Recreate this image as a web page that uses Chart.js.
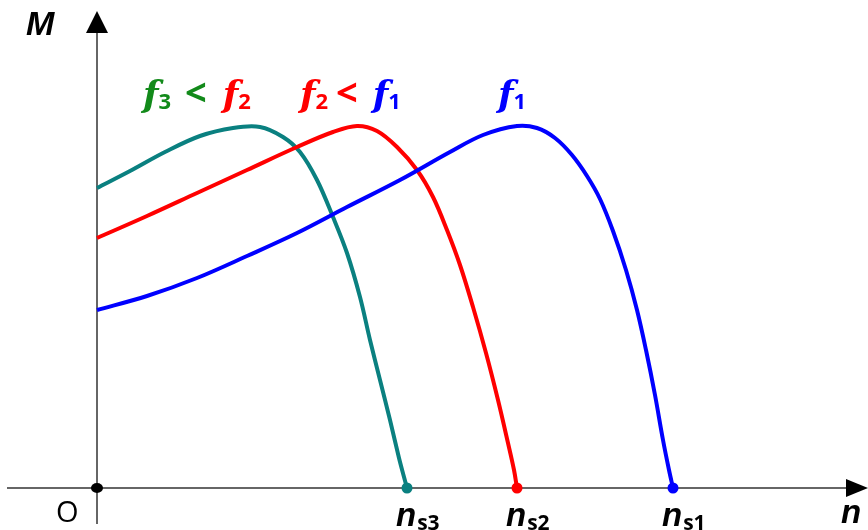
<!DOCTYPE html>
<html>
<head>
<meta charset="utf-8">
<script src="https://cdn.jsdelivr.net/npm/chart.js@4/dist/chart.umd.min.js"></script>
<style>
  html, body { margin: 0; padding: 0; background: #fff; }
  #wrap { width: 868px; height: 530px; position: relative; }
</style>
</head>
<body>
<div id="wrap"><canvas id="chart"></canvas></div>
<script>
// Speed n (arbitrary units) and torque M
const nF1 = [0, 50, 100, 150, 200, 250, 303, 353, 386, 420, 440, 458, 475, 490, 503, 516, 529, 540, 549, 558, 566, 572, 576];
const mF1 = [178, 192, 210, 232, 255, 281, 308, 336, 353, 362, 360, 350, 333, 312, 289, 257, 218, 178, 138, 93, 48, 18, 0];

const nF2 = [0, 50, 100, 150, 200, 236, 260, 280, 300, 320, 336, 350, 363, 376, 389, 401, 411, 417, 420];
const mF2 = [250, 272, 295, 318, 341, 356, 362, 357, 341, 318, 291, 258, 223, 181, 135, 88, 45, 18, 0];

const nF3 = [0, 33, 68, 103, 136, 163, 186, 203, 220, 236, 250, 263, 273, 283, 293, 302, 307, 310];
const mF3 = [300, 317, 336, 352, 360, 361, 351, 336, 308, 271, 235, 191, 148, 108, 68, 30, 11, 0];

// synchronous speeds (end points on the n axis)
const nsLabels = ['s1', 's2', 's3'];
const nsValues = [576, 420, 310];

const BLUE = '#0000ff';
const RED = '#ff0000';
const TEAL = '#0a8080';
const GREEN = '#128a1a';

function toPoints(xs, ys) {
    return xs.map((x, i) => ({ x: x, y: ys[i] }));
}

function endRadius(len, r) {
    // only the last point (on the n axis) gets a dot
    return Array.from({ length: len }, (_, i) => (i === len - 1 ? r : 0));
}

// draws the axes, arrows and the text labels
const axesPlugin = {
    id: 'axesPlugin',
    beforeDatasetsDraw(chart) {
        const ctx = chart.ctx;
        const xs = chart.scales.x;
        const ys = chart.scales.y;
        const x0 = xs.getPixelForValue(0);
        const y0 = ys.getPixelForValue(0);

        ctx.save();
        ctx.strokeStyle = '#666';
        ctx.lineWidth = 2;
        // n axis
        ctx.beginPath();
        ctx.moveTo(7, y0);
        ctx.lineTo(850, y0);
        ctx.stroke();
        // M axis
        ctx.beginPath();
        ctx.moveTo(x0, 524);
        ctx.lineTo(x0, 30);
        ctx.stroke();

        ctx.fillStyle = '#000';
        // arrow heads
        ctx.beginPath();
        ctx.moveTo(x0, 11);
        ctx.lineTo(x0 - 11, 33);
        ctx.lineTo(x0 + 11, 33);
        ctx.closePath();
        ctx.fill();

        ctx.beginPath();
        ctx.moveTo(868, y0);
        ctx.lineTo(846, y0 - 9);
        ctx.lineTo(846, y0 + 9);
        ctx.closePath();
        ctx.fill();

        // origin dot
        ctx.beginPath();
        ctx.ellipse(x0, y0, 6, 5, 0, 0, Math.PI * 2);
        ctx.fill();
        ctx.restore();
    },
    afterDraw(chart) {
        const ctx = chart.ctx;
        const xs = chart.scales.x;
        const fItal = 'italic bold 36px "DejaVu Serif"';
        const sub = 'bold 22px "Open Sans"';
        const lt = 'bold 38px "Open Sans"';
        const nItal = 'italic bold 33px "Liberation Sans"';

        ctx.save();
        ctx.textBaseline = 'alphabetic';
        ctx.textAlign = 'left';

        // writes a list of [text, font, color, dy, gap] runs one after another
        function runs(x, y, parts) {
            let cx = x;
            parts.forEach(p => {
                ctx.font = p[1];
                ctx.fillStyle = p[2];
                ctx.fillText(p[0], cx, y + (p[3] || 0));
                cx += ctx.measureText(p[0]).width + (p[4] || 0);
            });
        }

        // axis names
        runs(26, 35, [['M', 'italic bold 34px "Liberation Sans"', '#000']]);
        runs(841, 523, [['n', nItal, '#000']]);
        ctx.font = '29px "Open Sans"';
        ctx.fillStyle = '#000';
        ctx.fillText('O', 56, 522);

        // frequency labels
        runs(143, 106, [
            ['f', fItal, GREEN, 0, 0],
            ['3', sub, GREEN, 3, 14],
            ['<', lt, GREEN, 0, 16],
            ['f', fItal, RED, 0, 0],
            ['2', sub, RED, 3]
        ]);
        runs(300, 106, [
            ['f', fItal, RED, 0, 0],
            ['2', sub, RED, 3, 8],
            ['<', lt, RED, 0, 15],
            ['f', fItal, BLUE, 0, 0],
            ['1', sub, BLUE, 3]
        ]);
        runs(498, 106, [
            ['f', fItal, BLUE, 0, 0],
            ['1', sub, BLUE, 3]
        ]);

        // synchronous speed labels under the end points
        nsValues.forEach((v, i) => {
            const px = xs.getPixelForValue(v);
            runs(px - 11, 526, [
                ['n', nItal, '#000', 0, 1],
                [nsLabels[i], 'bold 21px "Open Sans"', '#000', 4]
            ]);
        });
        ctx.restore();
    }
};

const lineStyle = (color, len) => ({
    borderColor: color,
    backgroundColor: color,
    pointBackgroundColor: color,
    pointBorderWidth: 0,
    pointRadius: endRadius(len, 5.5),
    borderWidth: 4,
    showLine: true,
    fill: false,
    tension: 0.35,
    clip: false
});

new Chart(document.getElementById('chart'), {
    type: 'scatter',
    data: {
        datasets: [
            Object.assign({ label: 'f1', data: toPoints(nF1, mF1) }, lineStyle(BLUE, nF1.length)),
            Object.assign({ label: 'f2', data: toPoints(nF2, mF2) }, lineStyle(RED, nF2.length)),
            Object.assign({ label: 'f3', data: toPoints(nF3, mF3) }, lineStyle(TEAL, nF3.length))
        ]
    },
    options: {
        responsive: true,
        maintainAspectRatio: false,
        animation: false,
        layout: {
            padding: { left: 97, right: 13, top: 10, bottom: 42 }
        },
        plugins: {
            legend: { display: false },
            tooltip: { enabled: false }
        },
        scales: {
            x: { type: 'linear', min: 0, max: 758, display: false },
            y: { type: 'linear', min: 0, max: 478, display: false }
        }
    },
    plugins: [axesPlugin]
});
</script>
</body>
</html>
